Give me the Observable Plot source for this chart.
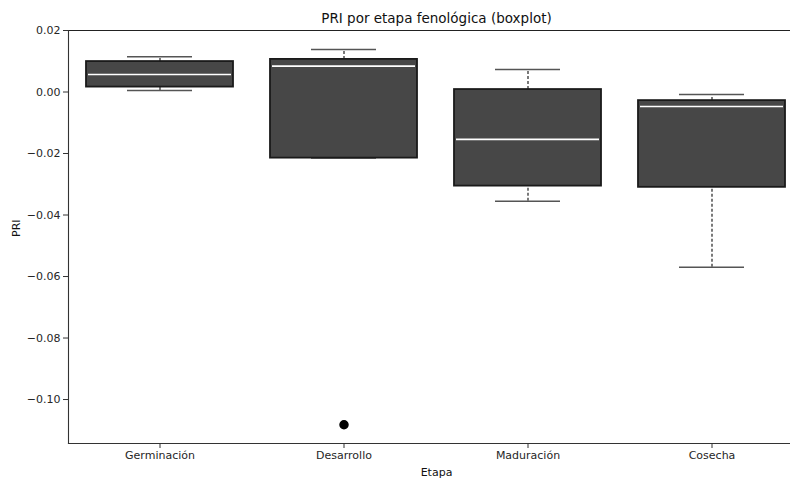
<!DOCTYPE html>
<html>
<head>
<meta charset="utf-8">
<script src="https://cdn.jsdelivr.net/npm/d3@7"></script>
<script src="https://cdn.jsdelivr.net/npm/@observablehq/plot@0.6"></script>
<style>
  html, body { margin: 0; padding: 0; background: #fff; overflow: hidden; }
  svg { font-family: "DejaVu Sans", sans-serif; }
</style>
</head>
<body>
<div id="chart"></div>
<script>
const stages = ["Germinación", "Desarrollo", "Maduración", "Cosecha"];
const q1 = [0.0016, -0.0215, -0.0306, -0.0310];
const medians = [0.0057, 0.0084, -0.0154, -0.0047];
const q3 = [0.0099, 0.0106, 0.0008, -0.0028];
const whiskerLow = [0.0005, -0.0215, -0.0355, -0.0570];
const whiskerHigh = [0.0115, 0.0138, 0.0073, -0.0008];
const outlierStages = ["Desarrollo"];
const outlierValues = [-0.1082];
const yTicks = [-0.10, -0.08, -0.06, -0.04, -0.02, 0.00, 0.02];

const boxes = stages.map((s, i) => ({
  stage: s, q1: q1[i], median: medians[i], q3: q3[i],
  lo: whiskerLow[i], hi: whiskerHigh[i]
}));
const outliers = outlierStages.map((s, i) => ({stage: s, value: outlierValues[i]}));

const W = 790, H = 478;
const mL = 68, mT = 30, mB = 35;
const textColor = "#262626";

const chart = Plot.plot({
  width: W,
  height: H,
  marginLeft: mL,
  marginRight: 0,
  marginTop: mT,
  marginBottom: mB,
  style: {fontFamily: "DejaVu Sans, sans-serif", color: textColor, background: "#fff", overflow: "hidden"},
  x: {type: "band", domain: stages, range: [mL, 804], paddingInner: 0.2, paddingOuter: 0.1, label: null},
  y: {domain: [-0.1143, 0.02], label: null},
  marks: [
    // whiskers
    Plot.ruleX(boxes, {x: "stage", y1: "q3", y2: "hi", stroke: "#222", strokeWidth: 1.2, strokeDasharray: "3,2"}),
    Plot.ruleX(boxes, {x: "stage", y1: "lo", y2: "q1", stroke: "#222", strokeWidth: 1.2, strokeDasharray: "3,2"}),
    // caps
    Plot.tickY(boxes, {x: "stage", y: "hi", stroke: "#555", strokeWidth: 1.5, insetLeft: 41, insetRight: 41}),
    Plot.tickY(boxes, {x: "stage", y: "lo", stroke: "#555", strokeWidth: 1.5, insetLeft: 41, insetRight: 41}),
    // boxes
    Plot.rect(boxes, {x: "stage", y1: "q1", y2: "q3", fill: "#474747", stroke: "#1a1a1a", strokeWidth: 1.8}),
    // medians
    Plot.tickY(boxes, {x: "stage", y: "median", stroke: "#ffffff", strokeWidth: 1.6, insetLeft: 2, insetRight: 2}),
    // outliers
    Plot.dot(outliers, {x: "stage", y: "value", r: 4, fill: "#000", stroke: "#000"}),
    // spines
    Plot.frame({anchor: "top", stroke: "#222", strokeWidth: 1}),
    Plot.frame({anchor: "bottom", stroke: "#333", strokeWidth: 1.1}),
    Plot.frame({anchor: "left", stroke: "#333", strokeWidth: 1.1}),
    // axes
    Plot.axisY({ticks: yTicks, tickFormat: d3.format(".2f"), tickSize: 5, tickPadding: 3, fontSize: 11, label: null, stroke: "#333"}),
    Plot.axisX({tickSize: 5, tickPadding: 3, fontSize: 11, label: null, stroke: "#333"}),
    // title and axis labels
    Plot.text(["PRI por etapa fenológica (boxplot)"], {frameAnchor: "top", dx: 7, dy: -17, fontSize: 13.5, fill: "#111"}),
    Plot.text(["Etapa"], {frameAnchor: "bottom", dx: 7, dy: 32, fontSize: 11, fill: "#111"}),
    Plot.text(["PRI"], {frameAnchor: "left", dx: -52, rotate: -90, fontSize: 11, fill: "#111"})
  ]
});
document.getElementById("chart").appendChild(chart);
</script>
</body>
</html>
